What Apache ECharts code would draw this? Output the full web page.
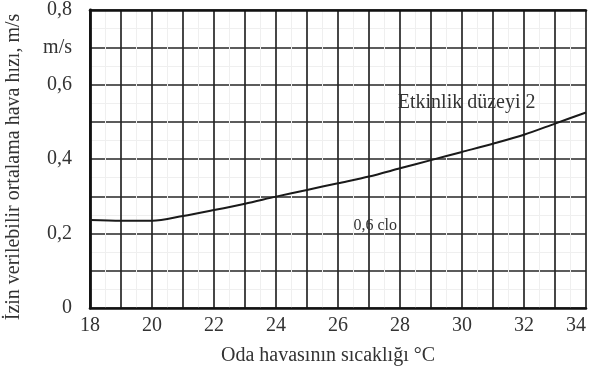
<!DOCTYPE html>
<html>
<head>
<meta charset="utf-8">
<script src="https://cdn.jsdelivr.net/npm/echarts@6/dist/echarts.min.js"></script>
<style>
html,body{margin:0;padding:0;background:#fff;}
#c{width:589px;height:381px;}
</style>
</head>
<body>
<div id="c"></div>
<script>
// Data
const tempC = [18, 19, 20, 21, 22, 23, 24, 25, 26, 27, 28, 29, 30, 31, 32, 33, 34];
const airSpeed = [0.236, 0.234, 0.234, 0.247, 0.263, 0.280, 0.299, 0.317, 0.335, 0.353, 0.375, 0.397, 0.419, 0.441, 0.465, 0.495, 0.525];
const xTickLabels = {18: '18', 20: '20', 22: '22', 24: '24', 26: '26', 28: '28', 30: '30', 32: '32', 34: '34'};
const yTickLabels = {'0': '0', '0.2': '0,2', '0.4': '0,4', '0.6': '0,6', '0.7': 'm/s', '0.8': '0,8'};
const xAxisTitle = 'Oda havasının sıcaklığı °C';
const yAxisTitle = 'İzin verilebilir ortalama hava hızı, m/s';
const notes = [
  {text: 'Etkinlik düzeyi 2', x: 30.15, y: 0.55, size: 20},
  {text: '0,6 clo', x: 27.2, y: 0.222, size: 16}
];

const serif = '"Liberation Serif", "DejaVu Serif", serif';
const chart = echarts.init(document.getElementById('c'), null, {renderer: 'canvas'});

const gridLine = {show: true, lineStyle: {color: '#262626', width: 1.7}};
const minorLine = {show: true, lineStyle: {color: '#efefef', width: 1}};

chart.setOption({
  backgroundColor: '#fff',
  animation: false,
  grid: {left: 90, right: 0, top: 10, bottom: 73, containLabel: false},
  xAxis: [{
    type: 'value', min: 18, max: 34, interval: 1,
    axisLine: {show: true, lineStyle: {color: '#111', width: 2.6}},
    axisTick: {show: false},
    axisLabel: {
      margin: 8, color: '#333', fontFamily: serif, fontSize: 20,
      alignMaxLabel: 'right',
      formatter: v => xTickLabels[v] || ''
    },
    splitLine: gridLine,
    minorTick: {show: false, splitNumber: 2},
    minorSplitLine: minorLine,
    name: xAxisTitle, nameLocation: 'middle', nameGap: 38,
    nameTextStyle: {color: '#333', fontFamily: serif, fontSize: 20, padding: [0, 0, 0, -20]}
  }, {
    type: 'value', min: 18, max: 34, position: 'top',
    axisLine: {show: true, lineStyle: {color: '#111', width: 2.6}},
    axisTick: {show: false}, axisLabel: {show: false}, splitLine: {show: false}
  }],
  yAxis: {
    type: 'value', min: 0, max: 0.8, interval: 0.1,
    axisLine: {show: true, lineStyle: {color: '#111', width: 2.8}},
    axisTick: {show: false},
    axisLabel: {
      margin: 18, color: '#333', fontFamily: serif, fontSize: 20,
      formatter: v => yTickLabels[String(Math.round(v * 10) / 10)] || ''
    },
    splitLine: gridLine,
    minorTick: {show: false, splitNumber: 2},
    minorSplitLine: minorLine
  },
  graphic: [{
    type: 'text', x: 14, y: 167, rotation: Math.PI / 2,
    style: {text: yAxisTitle, fill: '#333', font: '20px ' + serif, textAlign: 'center', textVerticalAlign: 'middle'}
  }],
  series: [{
    type: 'line', xAxisIndex: 0,
    data: tempC.map((t, i) => [t, airSpeed[i]]),
    showSymbol: false, smooth: 0.3,
    lineStyle: {color: '#1a1a1a', width: 2},
    markPoint: {
      symbol: 'rect', symbolSize: 0,
      data: notes.map(n => ({coord: [n.x, n.y], value: n.text,
        label: {show: true, formatter: n.text, color: '#333', fontFamily: serif, fontSize: n.size, position: 'inside'}}))
    }
  }]
});
</script>
</body>
</html>
